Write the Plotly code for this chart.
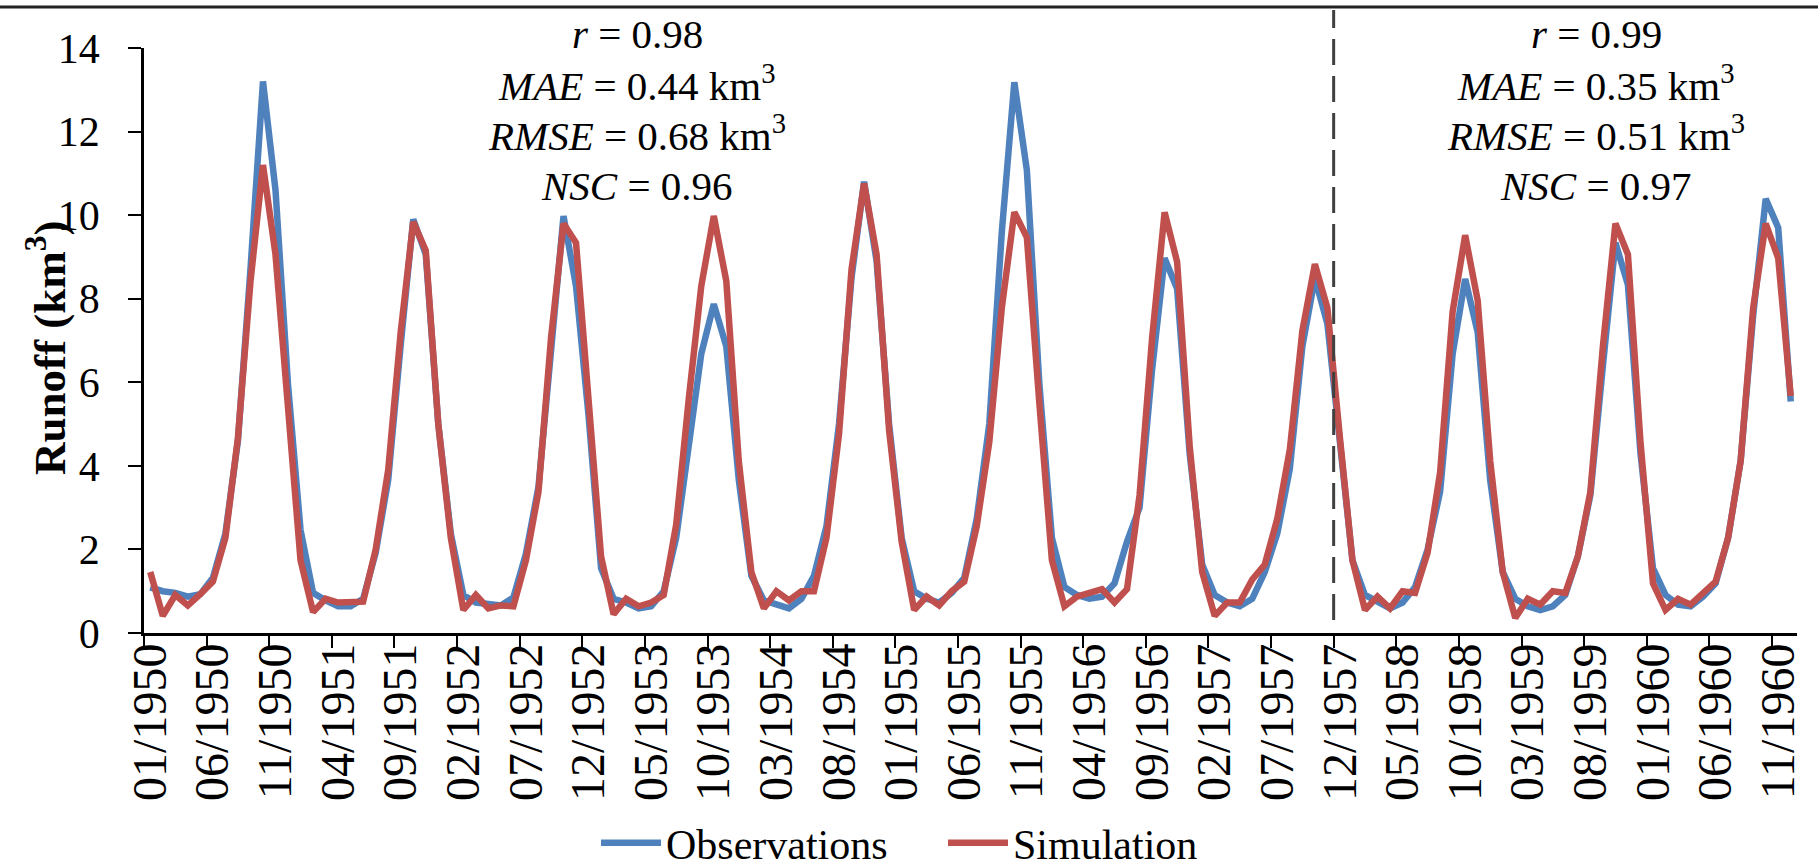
import plotly.graph_objects as go

# ---------------- data ----------------
months = [f"{m:02d}/{y}" for y in range(1950, 1961) for m in range(1, 13)]  # 01/1950 .. 12/1960

observations = [
    1.09, 1.00, 0.96, 0.87, 0.93, 1.32, 2.38, 4.60, 8.70, 13.20, 10.60, 5.95,
    2.47, 0.96, 0.78, 0.64, 0.64, 0.82, 1.92, 3.66, 6.90, 9.90, 9.06, 5.00,
    2.38, 0.91, 0.73, 0.68, 0.66, 0.85, 1.90, 3.50, 6.80, 9.98, 8.30, 5.20,
    1.55, 0.82, 0.73, 0.59, 0.64, 1.00, 2.28, 4.57, 6.68, 7.87, 6.86, 3.66,
    1.37, 0.78, 0.68, 0.59, 0.82, 1.37, 2.56, 5.00, 8.50, 10.80, 8.90, 5.00,
    2.28, 1.00, 0.82, 0.73, 0.96, 1.32, 2.74, 5.00, 9.60, 13.18, 11.08, 5.95,
    2.28, 1.10, 0.91, 0.82, 0.87, 1.19, 2.19, 3.00, 6.30, 8.97, 8.24, 4.30,
    1.64, 0.91, 0.73, 0.64, 0.82, 1.46, 2.38, 3.93, 6.86, 8.50, 7.40, 4.67,
    1.74, 0.91, 0.73, 0.59, 0.73, 1.10, 2.00, 3.38, 6.68, 8.47, 7.20, 3.66,
    1.46, 0.82, 0.64, 0.55, 0.64, 0.91, 1.83, 3.30, 6.40, 9.34, 8.33, 4.30,
    1.55, 0.91, 0.68, 0.64, 0.87, 1.19, 2.28, 4.12, 7.60, 10.39, 9.70, 5.54,
]

simulation = [
    1.46, 0.41, 0.91, 0.66, 0.93, 1.23, 2.28, 4.67, 8.40, 11.20, 9.06, 5.50,
    1.74, 0.50, 0.82, 0.73, 0.73, 0.75, 2.00, 3.90, 7.20, 9.84, 9.15, 5.00,
    2.28, 0.55, 0.91, 0.59, 0.66, 0.64, 1.74, 3.38, 7.05, 9.80, 9.34, 5.49,
    1.83, 0.45, 0.82, 0.64, 0.73, 0.91, 2.60, 5.60, 8.30, 9.98, 8.42, 4.10,
    1.46, 0.59, 1.00, 0.78, 1.00, 1.00, 2.28, 4.76, 8.70, 10.76, 9.06, 4.85,
    2.19, 0.55, 0.87, 0.66, 1.00, 1.23, 2.56, 4.57, 7.78, 10.07, 9.47, 5.49,
    1.74, 0.64, 0.87, 0.96, 1.05, 0.73, 1.05, 3.30, 7.05, 10.07, 8.88, 4.48,
    1.46, 0.41, 0.73, 0.73, 1.28, 1.64, 2.74, 4.39, 7.23, 8.83, 7.78, 4.67,
    1.74, 0.55, 0.87, 0.59, 1.00, 0.96, 1.92, 3.84, 7.69, 9.52, 7.96, 4.12,
    1.46, 0.36, 0.82, 0.68, 1.00, 0.96, 1.83, 3.38, 6.86, 9.80, 9.06, 4.57,
    1.19, 0.55, 0.82, 0.68, 0.96, 1.23, 2.28, 4.12, 7.78, 9.80, 8.97, 5.67,
]

tick_labels = months[::5]          # 01/1950, 06/1950, ... 11/1960
split_month = "12/1957"            # calibration / validation split

stats_cal = ["<i>r</i> = 0.98", "<i>MAE</i> = 0.44 km<sup>3</sup>",
             "<i>RMSE</i> = 0.68 km<sup>3</sup>", "<i>NSC</i> = 0.96"]
stats_val = ["<i>r</i> = 0.99", "<i>MAE</i> = 0.35 km<sup>3</sup>",
             "<i>RMSE</i> = 0.51 km<sup>3</sup>", "<i>NSC</i> = 0.97"]

# ---------------- figure ----------------
FONT = "Liberation Serif"
BLUE = "#4F81BD"
RED = "#C0504D"

x_idx = list(range(len(months)))
tick_idx = x_idx[::5]
boundary_idx = [i - 0.5 for i in tick_idx]
split_idx = months.index(split_month) - 0.5

fig = go.Figure()
fig.add_trace(go.Scatter(x=x_idx, y=observations, mode="lines", name="Observations",
                         line=dict(color=BLUE, width=6.5)))
fig.add_trace(go.Scatter(x=x_idx, y=simulation, mode="lines", name="Simulation",
                         line=dict(color=RED, width=6.5)))

W, H = 1818, 867
L, R, T, B = 144, 21, 48, 234
plot_h = H - T - B

def py(px):  # pixel y -> paper y
    return (H - B - px) / plot_h

def pxp(px):  # pixel x -> paper x
    return (px - L) / (W - L - R)

xr = [-0.5, len(months) - 0.5]
fig.update_layout(
    width=W, height=H,
    margin=dict(l=L, r=R, t=T, b=B, autoexpand=False),
    paper_bgcolor="white", plot_bgcolor="white",
    font=dict(family=FONT, size=40, color="black"),
    showlegend=True,
    legend=dict(orientation="h", xref="container", yref="container",
                x=596 / W, xanchor="left", y=(H - 843) / H, yanchor="middle",
                font=dict(family=FONT, size=42, color="black"), bgcolor="rgba(0,0,0,0)",
                itemwidth=60, entrywidth=272, entrywidthmode="pixels"),
    xaxis=dict(range=xr, showgrid=False, zeroline=False, showline=True, linecolor="black",
               linewidth=2.5, ticks="outside", ticklen=12, tickwidth=2, tickcolor="black",
               tickmode="array", tickvals=boundary_idx, showticklabels=False, automargin=False),
    xaxis2=dict(range=xr, overlaying="x", side="bottom", showgrid=False, zeroline=False,
                showline=False, ticks="", tickmode="array", tickvals=tick_idx,
                ticktext=tick_labels, tickangle=-90, automargin=False,
                tickfont=dict(family=FONT, size=48, color="black")),
    yaxis=dict(range=[0, 14], dtick=2, showgrid=False, zeroline=False, showline=True,
               linecolor="black", linewidth=2.5, ticks="outside", ticklen=13, tickwidth=2,
               tickcolor="black", tickfont=dict(family=FONT, size=42, color="black"),
               ticklabelstandoff=20, automargin=False),
)
# invisible trace so xaxis2 is rendered with its labels
fig.add_trace(go.Scatter(x=[xr[0]], y=[None], xaxis="x2", showlegend=False, hoverinfo="skip"))

# y-axis title
fig.add_annotation(text="<b>Runoff (km<sup>3</sup>)</b>", textangle=-90, xref="paper", yref="paper",
                   x=pxp(46), y=py(348), xanchor="center", yanchor="middle", showarrow=False,
                   font=dict(family=FONT, size=45, color="black"))

# statistics annotations
line_bottoms = [59, 111, 161, 211]
for texts, cx in ((stats_cal, 637), (stats_val, 1596)):
    for t, yb in zip(texts, line_bottoms):
        fig.add_annotation(text=t, xref="paper", yref="paper", x=pxp(cx), y=py(yb),
                           xanchor="center", yanchor="bottom", showarrow=False,
                           font=dict(family=FONT, size=41, color="black"))

# split dashed line
fig.add_shape(type="line", xref="x", yref="paper", x0=split_idx, x1=split_idx,
              y0=py(620), y1=py(10), line=dict(color="#404040", width=3, dash="26px,11px"))
# top border line
fig.add_shape(type="line", xref="paper", yref="paper", x0=pxp(0), x1=pxp(W),
              y0=py(7), y1=py(7), line=dict(color="#222222", width=3))

fig.write_html("out.html")
